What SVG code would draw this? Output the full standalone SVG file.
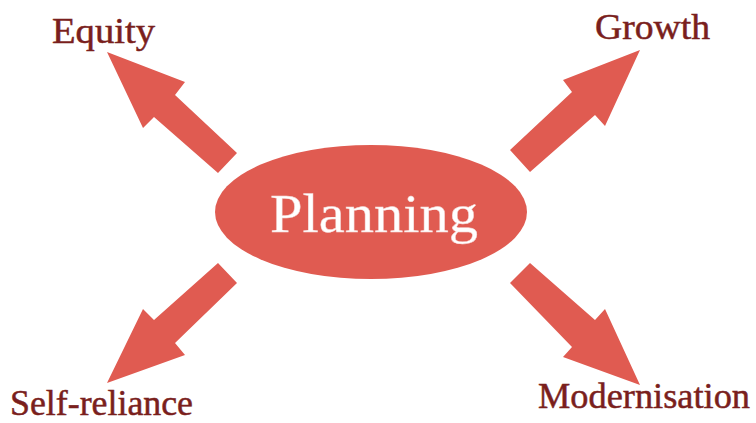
<svg xmlns="http://www.w3.org/2000/svg" width="756" height="423" viewBox="0 0 756 423">
<style>
.shape{fill:#E05B51;}
.lbl{font-family:"Liberation Serif","Times New Roman",serif;font-size:36px;fill:#7A1F1D;stroke:#7A1F1D;stroke-width:0.5;}
.center{font-family:"Liberation Serif","Times New Roman",serif;font-size:54px;fill:#FFFFFF;stroke:#F3D5D2;stroke-width:0.4;}
</style>
<rect width="756" height="423" fill="#FFFFFF"/>
<g id="connectors">
  <polygon id="arrow-equity" class="shape" points="107,52 185,82 175,95 237,153 218,173 154,117 143,128"/>
  <polygon id="arrow-growth" class="shape" points="640,50 605,126 595,115 530,172 510,150 572,92 563,80"/>
  <polygon id="arrow-selfreliance" class="shape" points="107,383 143,309 154,320 218,263 237,283 175,343 185,355"/>
  <polygon id="arrow-modernisation" class="shape" points="640,385 563,357 572,347 510,283 530,263 595,320 605,309"/>
</g>
<g id="planning">
  <ellipse class="shape" cx="371" cy="212" rx="156" ry="67"/>
  <text class="center" x="270" y="232" textLength="208" lengthAdjust="spacingAndGlyphs">Planning</text>
</g>
<g id="equity">
  <text class="lbl" x="52" y="43" textLength="103" lengthAdjust="spacingAndGlyphs">Equity</text>
</g>
<g id="growth">
  <text class="lbl" x="595" y="39" textLength="115" lengthAdjust="spacingAndGlyphs">Growth</text>
</g>
<g id="self-reliance">
  <text class="lbl" x="10" y="415" style="font-size:35px" textLength="183" lengthAdjust="spacingAndGlyphs">Self-reliance</text>
</g>
<g id="modernisation">
  <text class="lbl" x="538" y="408" textLength="212" lengthAdjust="spacingAndGlyphs">Modernisation</text>
</g>
</svg>
